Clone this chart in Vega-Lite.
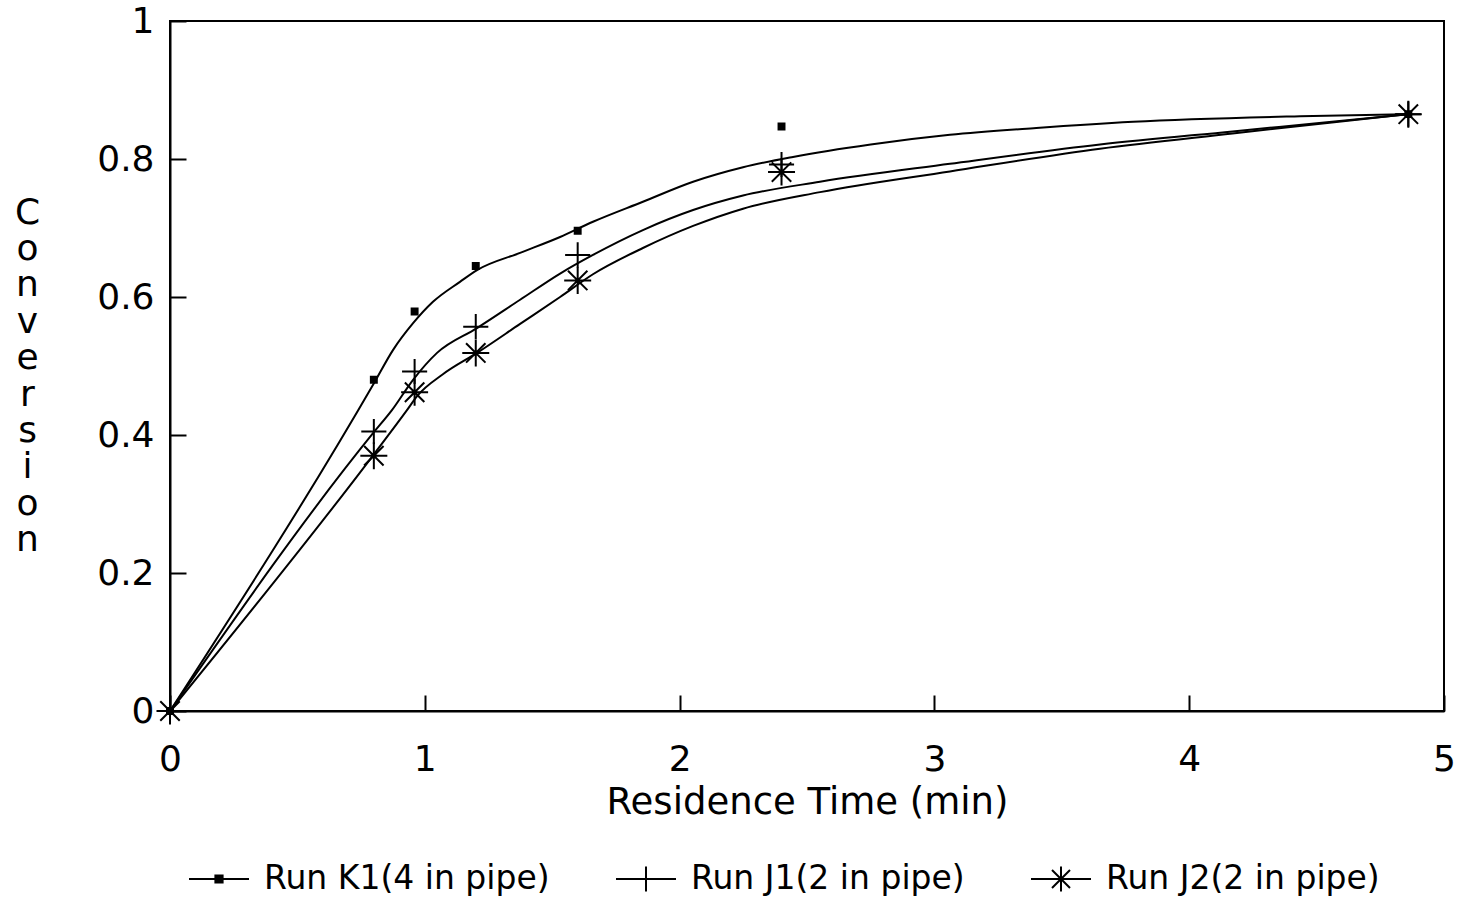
{
  "$schema": "https://vega.github.io/schema/vega-lite/v6.json",
  "width": 1274,
  "height": 690,
  "autosize": {"type": "none"},
  "padding": {"left": 170, "top": 21, "right": 21, "bottom": 188},
  "background": "white",
  "config": {
    "font": "DejaVu Sans",
    "view": {"stroke": "black", "strokeWidth": 2},
    "axis": {
      "domainColor": "black", "domainWidth": 2,
      "tickColor": "black", "tickWidth": 2,
      "labelColor": "black", "titleColor": "black",
      "labelFont": "DejaVu Sans", "titleFont": "DejaVu Sans",
      "labelFontSize": 36, "titleFontSize": 37,
      "titleFontWeight": "normal", "grid": false
    },
    "legend": {"labelFont": "DejaVu Sans", "labelColor": "black"}
  },
  "datasets": {
    "points": [
      {"run": "Run K1(4 in pipe)", "t": 0, "conv": 0},
      {"run": "Run K1(4 in pipe)", "t": 0.8, "conv": 0.48},
      {"run": "Run K1(4 in pipe)", "t": 0.96, "conv": 0.579},
      {"run": "Run K1(4 in pipe)", "t": 1.2, "conv": 0.645},
      {"run": "Run K1(4 in pipe)", "t": 1.6, "conv": 0.696},
      {"run": "Run K1(4 in pipe)", "t": 2.4, "conv": 0.847},
      {"run": "Run K1(4 in pipe)", "t": 4.86, "conv": 0.865},
      {"run": "Run J1(2 in pipe)", "t": 0, "conv": 0},
      {"run": "Run J1(2 in pipe)", "t": 0.8, "conv": 0.405},
      {"run": "Run J1(2 in pipe)", "t": 0.96, "conv": 0.492},
      {"run": "Run J1(2 in pipe)", "t": 1.2, "conv": 0.557},
      {"run": "Run J1(2 in pipe)", "t": 1.6, "conv": 0.661},
      {"run": "Run J1(2 in pipe)", "t": 2.4, "conv": 0.792},
      {"run": "Run J1(2 in pipe)", "t": 4.86, "conv": 0.865},
      {"run": "Run J2(2 in pipe)", "t": 0, "conv": 0},
      {"run": "Run J2(2 in pipe)", "t": 0.8, "conv": 0.37},
      {"run": "Run J2(2 in pipe)", "t": 0.96, "conv": 0.462},
      {"run": "Run J2(2 in pipe)", "t": 1.2, "conv": 0.519},
      {"run": "Run J2(2 in pipe)", "t": 1.6, "conv": 0.624},
      {"run": "Run J2(2 in pipe)", "t": 2.4, "conv": 0.781},
      {"run": "Run J2(2 in pipe)", "t": 4.86, "conv": 0.865}
    ],
    "fits": [
      {"run": "K1", "t": 0, "conv": 0},
      {"run": "K1", "t": 0.805, "conv": 0.478},
      {"run": "K1", "t": 0.875, "conv": 0.523},
      {"run": "K1", "t": 0.954, "conv": 0.562},
      {"run": "K1", "t": 1.032, "conv": 0.593},
      {"run": "K1", "t": 1.138, "conv": 0.622},
      {"run": "K1", "t": 1.205, "conv": 0.639},
      {"run": "K1", "t": 1.374, "conv": 0.664},
      {"run": "K1", "t": 1.531, "conv": 0.687},
      {"run": "K1", "t": 1.66, "conv": 0.709},
      {"run": "K1", "t": 1.856, "conv": 0.738},
      {"run": "K1", "t": 2.053, "conv": 0.767},
      {"run": "K1", "t": 2.249, "conv": 0.788},
      {"run": "K1", "t": 2.445, "conv": 0.803},
      {"run": "K1", "t": 2.75, "conv": 0.821},
      {"run": "K1", "t": 3.061, "conv": 0.835},
      {"run": "K1", "t": 3.4, "conv": 0.845},
      {"run": "K1", "t": 3.78, "conv": 0.854},
      {"run": "K1", "t": 4.435, "conv": 0.862},
      {"run": "K1", "t": 4.86, "conv": 0.865},
      {"run": "J1", "t": 0, "conv": 0},
      {"run": "J1", "t": 0.8, "conv": 0.404},
      {"run": "J1", "t": 0.871, "conv": 0.436},
      {"run": "J1", "t": 0.954, "conv": 0.48},
      {"run": "J1", "t": 1.048, "conv": 0.519},
      {"run": "J1", "t": 1.205, "conv": 0.555},
      {"run": "J1", "t": 1.374, "conv": 0.596},
      {"run": "J1", "t": 1.531, "conv": 0.634},
      {"run": "J1", "t": 1.66, "conv": 0.661},
      {"run": "J1", "t": 1.856, "conv": 0.697},
      {"run": "J1", "t": 2.053, "conv": 0.726},
      {"run": "J1", "t": 2.249, "conv": 0.747},
      {"run": "J1", "t": 2.551, "conv": 0.767},
      {"run": "J1", "t": 3.061, "conv": 0.793},
      {"run": "J1", "t": 3.65, "conv": 0.821},
      {"run": "J1", "t": 4.17, "conv": 0.840},
      {"run": "J1", "t": 4.56, "conv": 0.854},
      {"run": "J1", "t": 4.86, "conv": 0.865},
      {"run": "J2", "t": 0, "conv": 0},
      {"run": "J2", "t": 0.8, "conv": 0.372},
      {"run": "J2", "t": 0.93, "conv": 0.436},
      {"run": "J2", "t": 0.969, "conv": 0.456},
      {"run": "J2", "t": 1.071, "conv": 0.488},
      {"run": "J2", "t": 1.205, "conv": 0.519},
      {"run": "J2", "t": 1.374, "conv": 0.561},
      {"run": "J2", "t": 1.531, "conv": 0.6},
      {"run": "J2", "t": 1.66, "conv": 0.633},
      {"run": "J2", "t": 1.856, "conv": 0.671},
      {"run": "J2", "t": 2.053, "conv": 0.703},
      {"run": "J2", "t": 2.249, "conv": 0.728},
      {"run": "J2", "t": 2.551, "conv": 0.752},
      {"run": "J2", "t": 3.061, "conv": 0.782},
      {"run": "J2", "t": 3.65, "conv": 0.815},
      {"run": "J2", "t": 4.17, "conv": 0.837},
      {"run": "J2", "t": 4.56, "conv": 0.853},
      {"run": "J2", "t": 4.86, "conv": 0.865}
    ]
  },
  "encoding": {
    "x": {
      "field": "t", "type": "quantitative",
      "scale": {"domain": [0, 5], "nice": false, "zero": false},
      "axis": {
        "title": "Residence Time (min)",
        "values": [0, 1, 2, 3, 4, 5], "format": "~g",
        "tickSize": -16, "labelPadding": 75, "labelBaseline": "alphabetic",
        "labelFlush": false, "labelOverlap": false,
        "titleBaseline": "alphabetic", "titleY": 102
      }
    },
    "y": {
      "field": "conv", "type": "quantitative",
      "scale": {"domain": [0, 1], "nice": false, "zero": false},
      "axis": {
        "title": ["C", "o", "n", "v", "e", "r", "s", "i", "o", "n"],
        "values": [0, 0.2, 0.4, 0.6, 0.8, 1], "format": "~g",
        "tickSize": -16, "labelPadding": 32,
        "labelFlush": false, "labelOverlap": false,
        "titleFontSize": 36,
        "titleAngle": 0, "titleAlign": "center", "titleBaseline": "alphabetic",
        "titleLineHeight": 36.4, "titleX": -143, "titleY": 202
      }
    }
  },
  "layer": [
    {
      "data": {"name": "fits"},
      "mark": {"type": "line", "interpolate": "monotone", "color": "black", "strokeWidth": 2},
      "encoding": {"detail": {"field": "run"}}
    },
    {
      "data": {"name": "points"},
      "mark": {"type": "point", "filled": true, "stroke": "black", "strokeWidth": 2, "opacity": 0, "size": 10},
      "encoding": {
        "shape": {
          "field": "run", "type": "nominal",
          "scale": {
            "domain": ["Run K1(4 in pipe)", "Run J1(2 in pipe)", "Run J2(2 in pipe)"],
            "range": [
              "M-1,0H1M-0.12,-0.12H0.12V0.12H-0.12ZM0,-0.42L0,-0.42M0,0.42L0,0.42",
              "M-1,0H1M0,-0.42V0.42",
              "M-1,0H1M0,-0.42V0.42M-0.3,-0.3L0.3,0.3M-0.3,0.3L0.3,-0.3"
            ]
          },
          "legend": null
        },
        "color": {
          "field": "run", "type": "nominal",
          "scale": {
            "domain": ["Run K1(4 in pipe)", "Run J1(2 in pipe)", "Run J2(2 in pipe)"],
            "range": ["black", "black", "black"]
          },
          "legend": {
            "title": null, "orient": "none", "direction": "horizontal",
            "legendX": 18, "legendY": 827,
            "symbolSize": 3600, "symbolOpacity": 1,
            "labelFontSize": 33, "labelOffset": 14, "labelLimit": 0,
            "columnPadding": 62, "symbolStrokeWidth": 2
          }
        }
      }
    },
    {
      "data": {"name": "points"},
      "transform": [{"filter": "datum.run === 'Run K1(4 in pipe)'"}],
      "mark": {"type": "point", "filled": true, "fill": "black", "stroke": "black", "strokeWidth": 2, "opacity": 1, "size": 729, "shape": "M-0.22,-0.22H0.22V0.22H-0.22Z"}
    },
    {
      "data": {"name": "points"},
      "transform": [{"filter": "datum.run === 'Run J1(2 in pipe)'"}],
      "mark": {"type": "point", "filled": true, "fill": "black", "stroke": "black", "strokeWidth": 2, "opacity": 1, "size": 729, "shape": "M-0.93,0H0.93M0,-0.93V0.93"}
    },
    {
      "data": {"name": "points"},
      "transform": [{"filter": "datum.run === 'Run J2(2 in pipe)'"}],
      "mark": {"type": "point", "filled": true, "fill": "black", "stroke": "black", "strokeWidth": 2, "opacity": 1, "size": 729, "shape": "M0,-1V1M-1,0H1M-0.72,-0.72L0.72,0.72M-0.72,0.72L0.72,-0.72"}
    }
  ]
}
